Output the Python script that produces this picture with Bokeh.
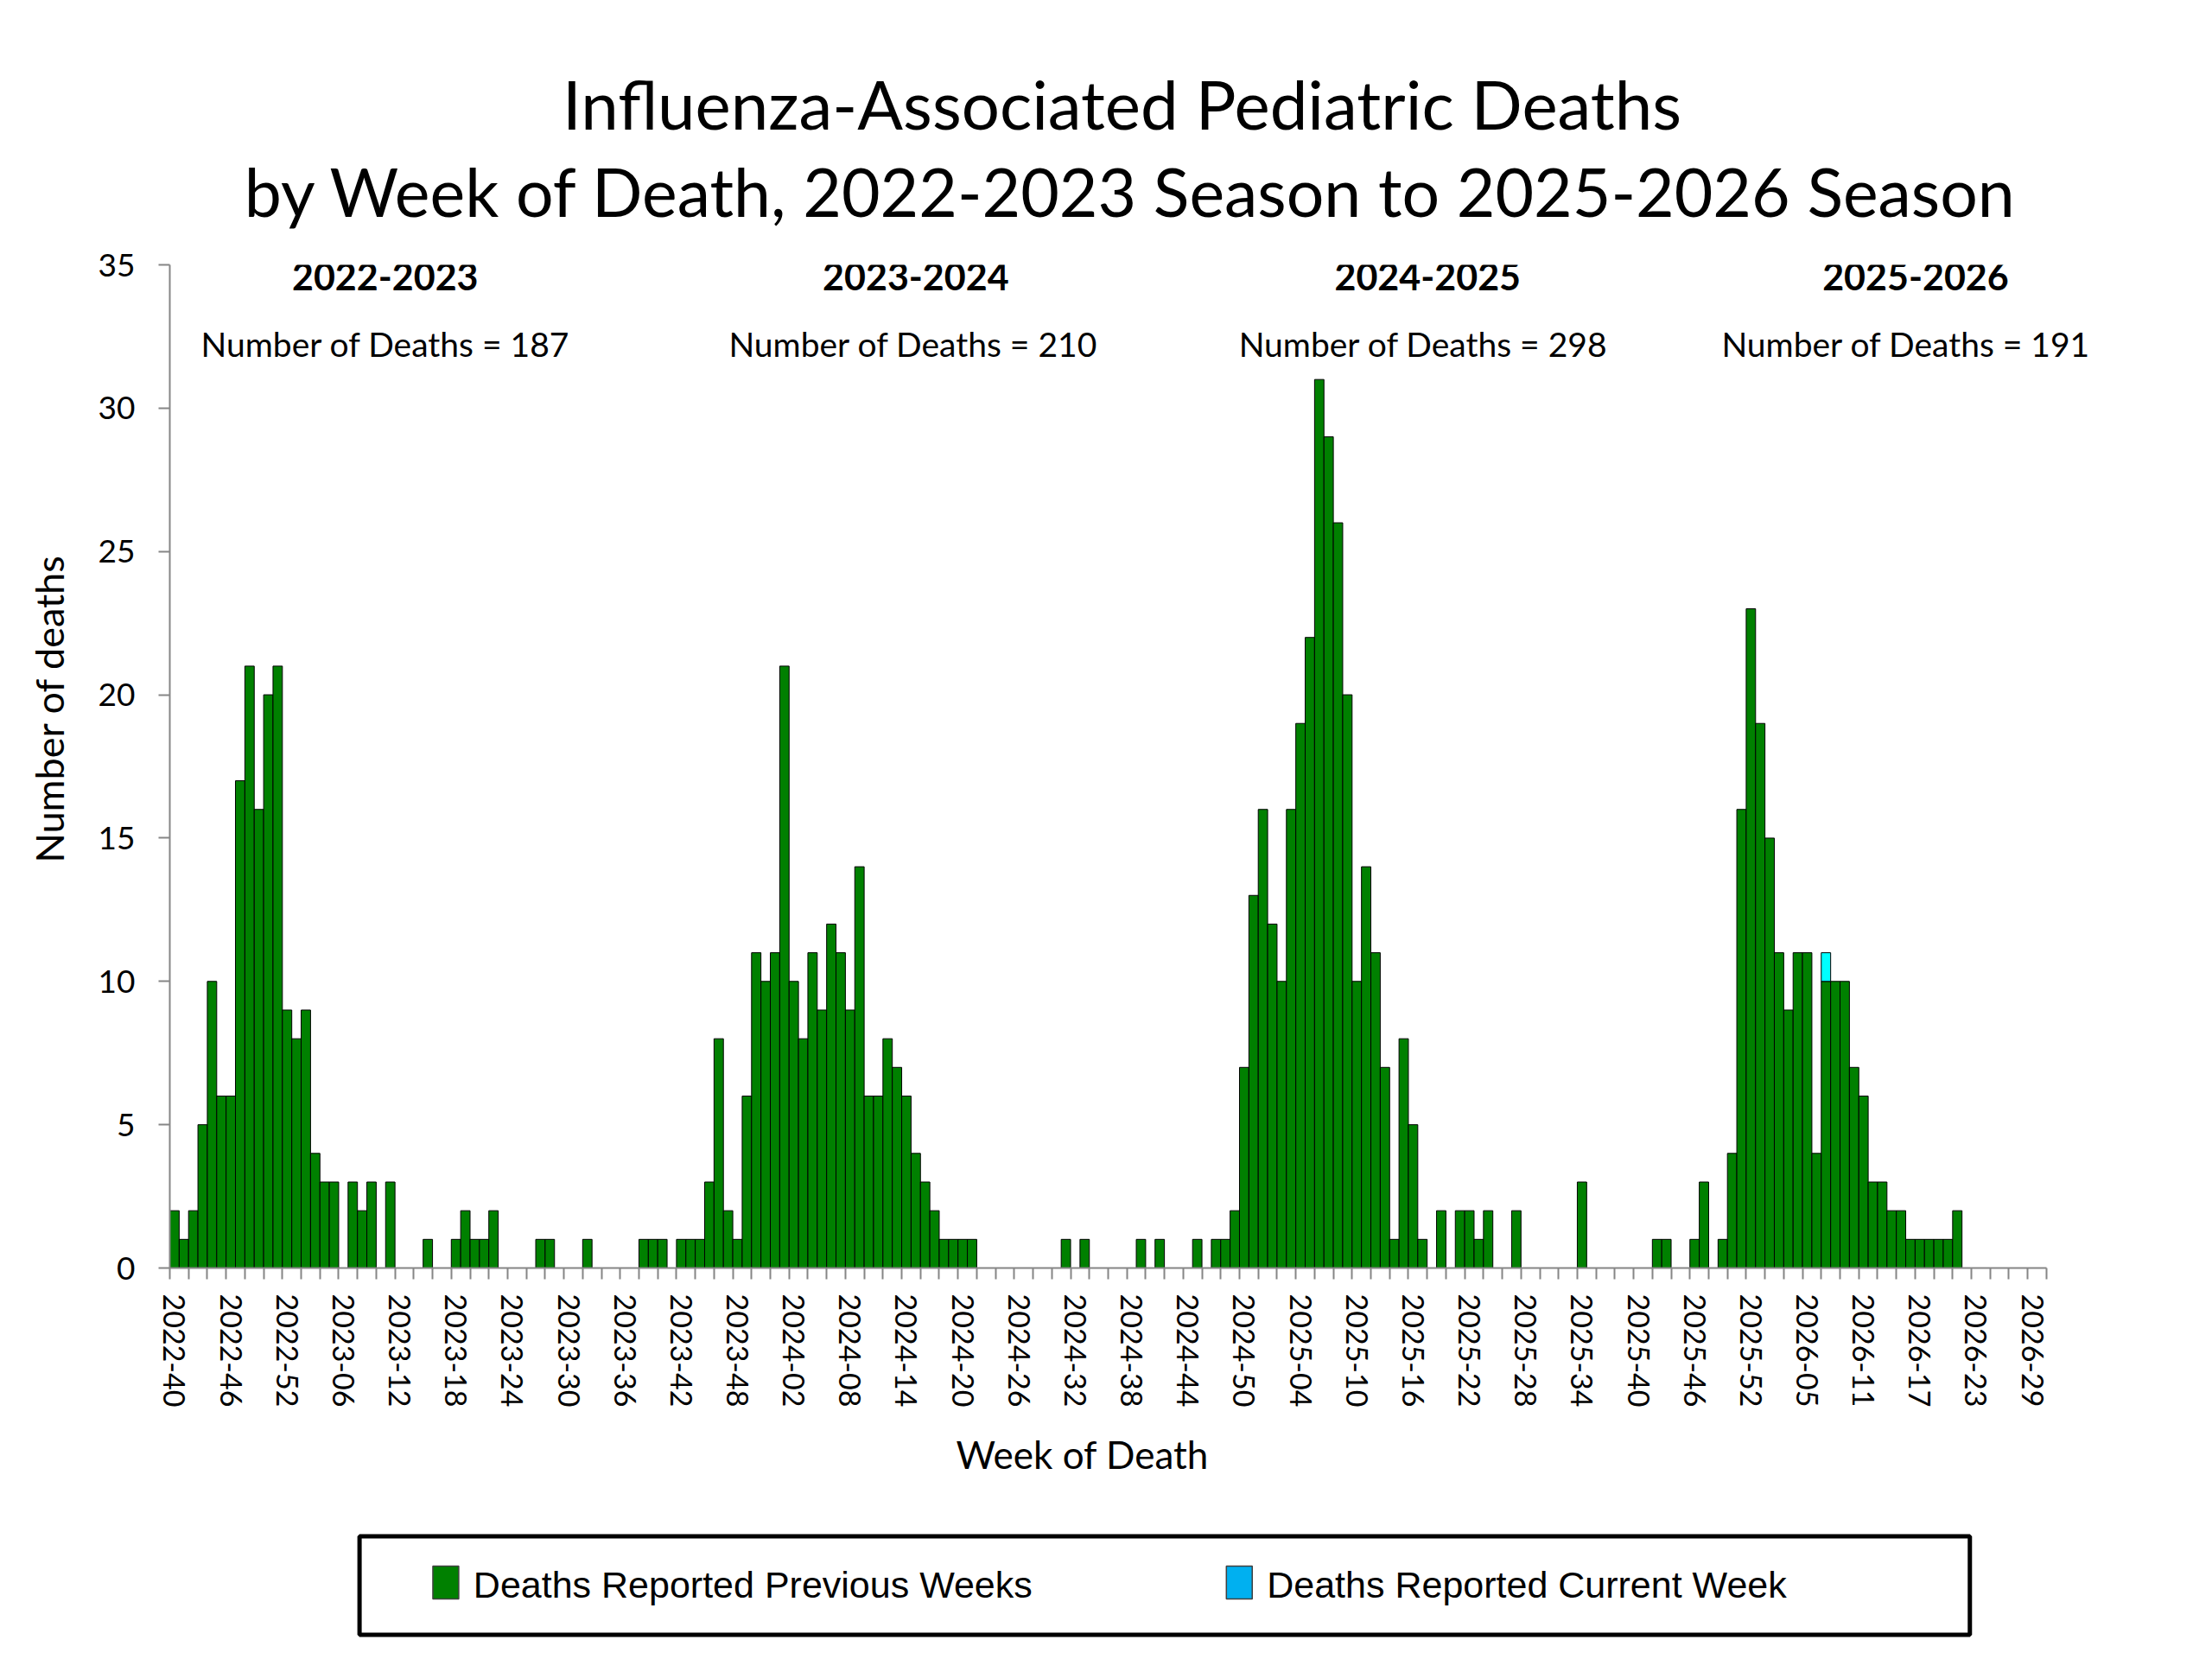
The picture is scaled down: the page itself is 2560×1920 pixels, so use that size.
import numpy as np
from bokeh.plotting import figure
from bokeh.layouts import column
from bokeh.models import Range1d, FixedTicker, ColumnDataSource, Title
from bokeh.core.properties import value
from bokeh.embed import file_html
from bokeh.resources import INLINE

# ---------------- data ----------------
# MMWR weeks shown on the axis: (year, first week, last week)
week_spans = [(2022, 40, 52), (2023, 1, 52), (2024, 1, 52), (2025, 1, 53), (2026, 1, 30)]
weeks = [f"{y}-{w:02d}" for (y, a, b) in week_spans for w in range(a, b + 1)]

deaths_2022 = [2, 1, 2, 5, 10, 6, 6, 17, 21, 16, 20, 21, 9]
deaths_2023 = [8, 9, 4, 3, 3, 0, 3, 2, 3, 0,
               3, 0, 0, 0, 1, 0, 0, 1, 2, 1,
               1, 2, 0, 0, 0, 0, 1, 1, 0, 0,
               0, 1, 0, 0, 0, 0, 0, 1, 1, 1,
               0, 1, 1, 1, 3, 8, 2, 1, 6, 11,
               10, 11]
deaths_2024 = [21, 10, 8, 11, 9, 12, 11, 9, 14, 6,
               6, 8, 7, 6, 4, 3, 2, 1, 1, 1,
               1, 0, 0, 0, 0, 0, 0, 0, 0, 0,
               1, 0, 1, 0, 0, 0, 0, 0, 1, 0,
               1, 0, 0, 0, 1, 0, 1, 1, 2, 7,
               13, 16]
deaths_2025 = [12, 10, 16, 19, 22, 31, 29, 26, 20, 10,
               14, 11, 7, 1, 8, 5, 1, 0, 2, 0,
               2, 2, 1, 2, 0, 0, 2, 0, 0, 0,
               0, 0, 0, 3, 0, 0, 0, 0, 0, 0,
               0, 1, 1, 0, 0, 1, 3, 0, 1, 4,
               16, 23, 19]
deaths_2026 = [15, 11, 9, 11, 11, 4, 10, 10, 10, 7,
               6, 3, 3, 2, 2, 1, 1, 1, 1, 1,
               2, 0, 0, 0, 0, 0, 0, 0, 0, 0]

current_week = ["2026-07"]
current_week_deaths = [1]

seasons = ["2022-2023", "2023-2024", "2024-2025", "2025-2026"]
season_totals = [187, 210, 298, 191]

title_lines = ["Influenza-Associated Pediatric Deaths",
               "by Week of Death, 2022-2023 Season to 2025-2026 Season"]
legend_labels = ["Deaths Reported Previous Weeks", "Deaths Reported Current Week"]
legend_colors = ["#008000", "#00B0F0"]

# ---------------- build sources ----------------
prev = np.array(deaths_2022 + deaths_2023 + deaths_2024 + deaths_2025 + deaths_2026)
cur = np.zeros(len(weeks), dtype=int)
for wk, n in zip(current_week, current_week_deaths):
    cur[weeks.index(wk)] = n
idx = np.arange(len(weeks))

m = prev > 0
src_prev = ColumnDataSource(dict(x=idx[m], top=prev[m], week=np.array(weeks)[m]))
mc = cur > 0
src_cur = ColumnDataSource(dict(x=idx[mc], bottom=prev[mc], top=(prev + cur)[mc]))

FONT = "Lato"
GREY = "#868686"
W = 2544
FL, FR = 192, 2432          # frame left/right in page pixels (shared by all strips)
TITLE_H = 280
MAIN_H = 1480
LEG_H = 144

# ---------------- title strip ----------------
tfig = figure(width=W, height=TITLE_H, x_range=Range1d(FL, FR), y_range=Range1d(0, TITLE_H),
              x_axis_type=None, y_axis_type=None, output_backend="svg",
              toolbar_location=None, min_border_left=FL, min_border_right=W - FR,
              min_border_top=0, min_border_bottom=0)
tfig.outline_line_color = None
tfig.text(x=[1296], y=[TITLE_H - 119], text=title_lines[:1],
          text_font=value(FONT), text_font_size="78px", text_align="center",
          text_baseline="middle", text_color="black")
tfig.text(x=[1307], y=[TITLE_H - 220], text=title_lines[1:],
          text_font=value(FONT), text_font_size="77px", text_align="center",
          text_baseline="middle", text_color="black")

# ---------------- main chart ----------------
p = figure(width=W, height=MAIN_H,
           x_range=Range1d(-0.5, len(weeks) - 0.5 + 5.9), y_range=Range1d(0, 35),
           output_backend="svg", toolbar_location=None,
           min_border_left=FL, min_border_right=W - FR,
           min_border_top=26, min_border_bottom=293)
p.outline_line_color = None
p.grid.visible = False

p.vbar(x="x", top="top", width=1, source=src_prev,
       fill_color="#008000", line_color="black", line_width=1)
p.vbar(x="x", bottom="bottom", top="top", width=1, source=src_cur,
       fill_color="#00FFFF", line_color="black", line_width=1)

xa = p.xaxis[0]
label_pos = list(range(0, len(weeks), 6))
xa.bounds = (-0.5, len(weeks) - 0.5)
xa.ticker = FixedTicker(ticks=label_pos,
                        minor_ticks=[i - 0.5 for i in range(0, len(weeks) + 1, 2)])
xa.major_label_overrides = {i: weeks[i] for i in label_pos}
xa.major_label_orientation = "vertical"
xa.major_tick_out = 0
xa.major_tick_in = 0
xa.major_tick_line_color = None
xa.minor_tick_out = 13
xa.minor_tick_in = 0
xa.minor_tick_line_color = GREY
xa.minor_tick_line_width = 2
xa.axis_line_color = GREY
xa.axis_line_width = 2
xa.major_label_standoff = 17
xa.major_label_text_font = FONT
xa.major_label_text_font_size = "34px"
xa.major_label_text_color = "black"

ya = p.yaxis[0]
ya.ticker = FixedTicker(ticks=list(range(0, 36, 5)), minor_ticks=[])
ya.major_tick_out = 13
ya.major_tick_in = 0
ya.major_tick_line_color = GREY
ya.major_tick_line_width = 2
ya.axis_line_color = GREY
ya.axis_line_width = 2
ya.major_label_standoff = 27
ya.major_label_text_font = FONT
ya.major_label_text_font_size = "37px"
ya.major_label_text_color = "black"

y_title = Title(text="Number of deaths", align="left", offset=469,
                text_font=FONT, text_font_size="45px", text_font_style="normal",
                text_color="black", standoff=54)
p.add_layout(y_title, "left")
x_title = Title(text="Week of Death", align="left", offset=910,
                text_font=FONT, text_font_size="44px", text_font_style="normal",
                text_color="black", standoff=46)
p.add_layout(x_title, "below")

head_x = [22.45, 79.0, 133.55, 185.55]
note_x = [22.5, 78.75, 133.1, 184.55]
p.text(x=head_x, y=[34.6] * 4, text=seasons,
       text_font=value(FONT), text_font_style="bold", text_font_size="43px",
       text_align="center", text_baseline="middle", text_color="black")
p.text(x=note_x, y=[32.25] * 4,
       text=[f"Number of Deaths = {n}" for n in season_totals],
       text_font=value(FONT), text_font_size="39px",
       text_align="center", text_baseline="middle", text_color="black")

# ---------------- legend strip (page y 1760..1904; data y = 1904 - page y) ----------------
lfig = figure(width=W, height=LEG_H, x_range=Range1d(FL, FR), y_range=Range1d(0, LEG_H),
              x_axis_type=None, y_axis_type=None, output_backend="svg",
              toolbar_location=None, min_border_left=FL, min_border_right=W - FR,
              min_border_top=0, min_border_bottom=0)
lfig.outline_line_color = None
lfig.quad(left=[412], right=[2279], top=[126.5], bottom=[12.5],
          fill_color="white", line_color="black", line_width=5)
sw_left = [497, 1417]
lfig.quad(left=sw_left, right=[x + 30 for x in sw_left], top=[92] * 2, bottom=[54] * 2,
          fill_color=legend_colors, line_color="#404040", line_width=1.5)
lfig.text(x=[x + 47 for x in sw_left], y=[71] * 2, text=legend_labels,
          text_font=value("Liberation Sans"), text_font_size="43px",
          text_align="left", text_baseline="middle", text_color="black")

layout = column(tfig, p, lfig, spacing=0)
open("out.html", "w").write(file_html(layout, INLINE))
